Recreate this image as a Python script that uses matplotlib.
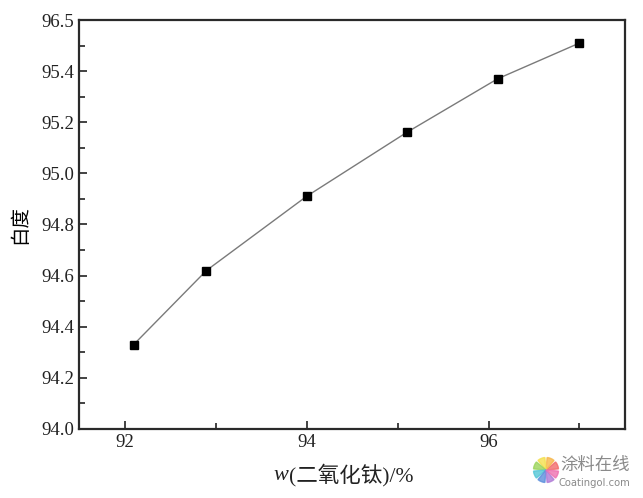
import matplotlib
matplotlib.use('Agg')
import matplotlib.pyplot as plt
from matplotlib.patches import Wedge

plt.rcParams['font.family'] = ['Liberation Serif', 'Noto Sans CJK SC']

# data
tio2 = [92.1, 92.9, 94.0, 95.1, 96.1, 97.0]
whiteness = [94.33, 94.62, 94.91, 95.16, 95.37, 95.51]
x_ticks = [92, 94, 96]
y_ticks = [94.0, 94.2, 94.4, 94.6, 94.8, 95.0, 95.2, 95.4, 95.6]
y_labels = ['94.0', '94.2', '94.4', '94.6', '94.8', '95.0', '95.2', '95.4', '96.5']

fig = plt.figure(figsize=(6.43, 4.98), dpi=100)
ax = fig.add_axes([0.1229, 0.1386, 0.8491, 0.8212])

ax.plot(tio2, whiteness, '-', color='#7a7a7a', lw=1.0, zorder=2)
ax.plot(tio2, whiteness, 's', color='black', ms=5.5, zorder=3, linestyle='none')

ax.set_xlim(91.5, 97.5)
ax.set_ylim(94.0, 95.6)
ax.set_xticks(x_ticks)
ax.set_xticks([93, 95, 97], minor=True)
ax.set_yticks(y_ticks)
ax.set_yticklabels(y_labels)
ax.set_yticks([94.1, 94.3, 94.5, 94.7, 94.9, 95.1, 95.3, 95.5], minor=True)

ax.tick_params(which='both', direction='in', top=False, right=False,
               labelsize=13.5, colors='#222222', width=1.2)
ax.tick_params(which='major', length=6)
ax.tick_params(which='minor', length=4)
for s in ax.spines.values():
    s.set_linewidth(1.6)
    s.set_color('#2a2a2a')

ax.set_ylabel('白度', fontsize=14, family=['Noto Sans CJK SC'], labelpad=8)

# x label: italic w + rest
fig.text(0.449, 0.046, 'w', fontsize=16, style='italic', color='#222222',
         family=['Liberation Serif'], ha='right', va='center')
fig.text(0.449, 0.046, '(二氧化钛)/%', fontsize=15.5, color='#222222',
         family=['Liberation Serif', 'Noto Sans CJK SC'], ha='left', va='center')

# watermark
fig.text(0.98, 0.066, '涂料在线', fontsize=12.5, color='#8a8a8a',
         family=['Noto Sans CJK SC'], ha='right', va='center')
fig.text(0.98, 0.031, 'Coatingol.com', fontsize=7.2, color='#8a8a8a',
         family=['DejaVu Sans'], ha='right', va='center')
cols = ['#f26b6b', '#f7b64a', '#f4e04d', '#9bd45a', '#53c6d6', '#5b8fdc', '#b07ad6', '#ee6fb0']
for i, c in enumerate(cols):
    w = Wedge((5.46, 0.28), 0.125, i * 45 + 5, i * 45 + 40, color=c,
              transform=fig.dpi_scale_trans, alpha=0.8)
    fig.add_artist(w)

fig.savefig('out.png', dpi=100)
